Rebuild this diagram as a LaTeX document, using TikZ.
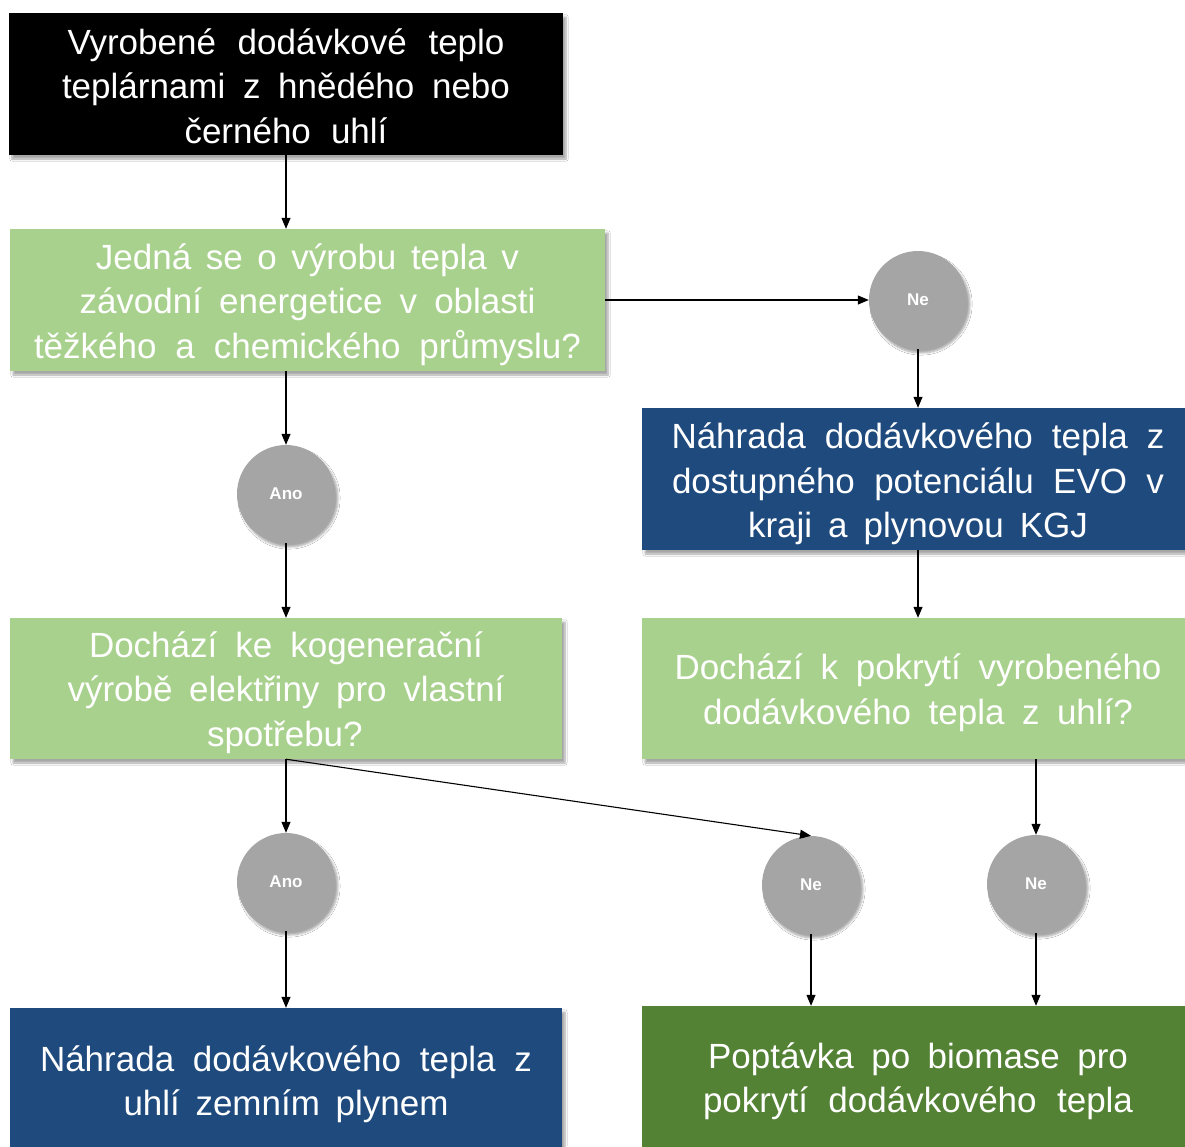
\documentclass[tikz,border=0pt]{standalone}
\usepackage{fontspec}
\setmainfont{Liberation Sans}
\usetikzlibrary{arrows.meta,shadows.blur}
\definecolor{lgreen}{HTML}{A9D18E}
\definecolor{dblue}{HTML}{1F4A7D}
\definecolor{dgreen}{HTML}{548235}
\definecolor{cgray}{HTML}{A5A5A5}
\newcommand\jl[2]{\makebox[#1pt][s]{#2}}
\begin{document}
\begin{tikzpicture}[x=1pt,y=1pt,
  shad/.style={blur shadow={shadow xshift=3pt,shadow yshift=-4pt,shadow blur steps=6,shadow opacity=35}},
  box/.style={rectangle,inner sep=0pt,minimum width=552pt,minimum height=142pt,shad},
  txt/.style={inner sep=0pt,text=white,align=center,font=\fontsize{35}{44.5}\selectfont},
  decision/.style={circle,fill=cgray,inner sep=0pt,minimum size=98pt,shad,
     text=white,font=\fontsize{17}{20}\selectfont\bfseries},
  arr/.style={line width=1.1pt,-{Triangle[length=11pt,width=9pt]}}]
\clip (0,0) rectangle (1185,-1146);
\fill[white] (0,0) rectangle (1185,-1146);

\node[box,fill=black,minimum width=554pt] (top) at (286,-84) {};
\node[txt] (top-t) at ([yshift=-2pt]top.center)
  {\jl{437}{Vyrobené dodávkové teplo}\\\jl{448}{teplárnami z hnědého nebo}\\\jl{203}{černého uhlí}};
\node[box,fill=lgreen,minimum width=595pt] (g1) at (307.5,-300) {};
\node[txt] (g1-t) at ([yshift=-4.5pt]g1.center)
  {\jl{423}{Jedná se o výrobu tepla v}\\\jl{456}{závodní energetice v oblasti}\\\jl{547}{těžkého a chemického průmyslu?}};
\node[decision] (ne1) at (918,-300) {Ne};
\node[box,fill=dblue] (b1) at (918,-479) {};
\node[txt] (b1-t) at ([yshift=-5pt]b1.center)
  {\jl{493}{Náhrada dodávkového tepla z}\\\jl{492}{dostupného potenciálu EVO v}\\\jl{340}{kraji a plynovou KGJ}};
\node[decision] (ano1) at (286,-494) {Ano};
\node[box,fill=lgreen,minimum height=141pt] (g2) at (286,-688.5) {};
\node[txt] (g2-t) at ([yshift=-4pt]g2.center)
  {\jl{394}{Dochází ke kogenerační}\\\jl{437}{výrobě elektřiny pro vlastní}\\\jl{158}{spotřebu?}};
\node[box,fill=lgreen,minimum height=141pt] (g3) at (918,-688.5) {};
\node[txt] (g3-t) at ([yshift=-4pt]g3.center)
  {\jl{487}{Dochází k pokrytí vyrobeného}\\\jl{430}{dodávkového tepla z uhlí?}};
\node[decision] (ano2) at (286,-882) {Ano};
\node[decision] (ne2) at (811,-885) {Ne};
\node[decision] (ne3) at (1036,-884) {Ne};
\node[box,fill=dblue] (b2) at (286,-1079) {};
\node[txt] (b2-t) at ([yshift=-5pt]b2.center)
  {\jl{492}{Náhrada dodávkového tepla z}\\\jl{325}{uhlí zemním plynem}};
\node[box,fill=dgreen] (dg) at (918,-1077) {};
\node[txt] (dg-t) at ([yshift=-4pt]dg.center)
  {\jl{420}{Poptávka po biomase pro}\\\jl{430}{pokrytí dodávkového tepla}};

\draw[arr] (top.south) -- (top.south |- g1.north);
\draw[arr] (g1.east) -- (ne1.west);
\draw[arr] (ne1.south) -- (ne1 |- b1.north);
\draw[arr] (ano1 |- g1.south) -- (ano1.north);
\draw[arr] (ano1.south) -- (ano1 |- g2.north);
\draw[arr] (b1.south) -- (b1 |- g3.north);
\draw[arr] (g2.south) -- (ano2.north);
\draw[arr] (g2.south) -- (ne2.north);
\draw[arr] (ne3 |- g3.south) -- (ne3.north);
\draw[arr] (ano2.south) -- (ano2 |- b2.north);
\draw[arr] (ne2.south) -- (ne2 |- dg.north);
\draw[arr] (ne3.south) -- (ne3 |- dg.north);
\end{tikzpicture}
\end{document}
